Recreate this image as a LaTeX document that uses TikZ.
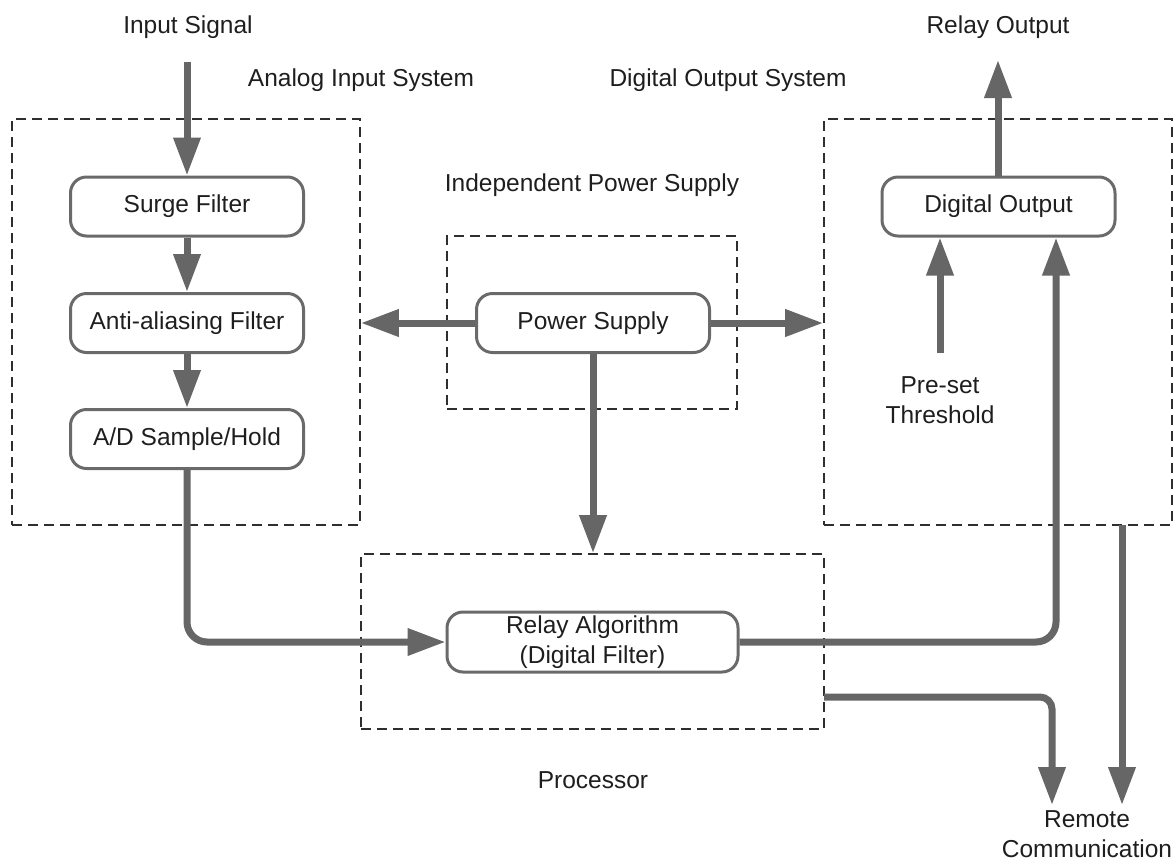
\documentclass[tikz,border=0pt]{standalone}
\usepackage{fontspec}
\setmainfont{Liberation Sans}
\usetikzlibrary{arrows.meta}
\definecolor{flowgray}{HTML}{666666}
\definecolor{boxgray}{HTML}{6A6A6A}
\definecolor{dashgray}{HTML}{2E2E2E}
\definecolor{txt}{HTML}{1E1E1E}
\begin{document}
\begin{tikzpicture}[x=1pt,y=-1pt,
  every node/.style={font=\fontsize{24.5}{30}\selectfont, text=txt},
  block/.style={draw=boxgray, line width=3pt, rounded corners=16pt, minimum width=233pt, minimum height=59pt, inner sep=0pt, align=center},
  group/.style={draw=dashgray, line width=1.7pt, dash pattern=on 10pt off 6pt, minimum width=#1, inner sep=0pt},
  flow/.style={draw=flowgray, line width=7pt, -{Triangle[width=26pt,length=38pt]}},
  lbl/.style={inner sep=0pt, align=center}
]
\useasboundingbox (0,0) rectangle (1174,863);

% dashed groups
\node[group=348pt, minimum height=406pt] (analog) at (186,322) {};
\node[group=348pt, minimum height=406pt] (digbox) at (998,322) {};
\node[group=290pt, minimum height=173pt] (pwrbox) at (592,322.5) {};
\node[group=463pt, minimum height=175pt] (proc) at (592.5,641.5) {};

% labels
\node[lbl] (linput) at (188,27) {Input Signal};
\node[lbl] (lrelay) at (998,27) {Relay Output};
\node[lbl] (lanalog) at (361,80) {Analog Input System};
\node[lbl] (ldigital) at (728,80) {Digital Output System};
\node[lbl] (lpower) at (592,185) {Independent Power Supply};
\node[lbl] (lproc) at (593,780) {Processor};
\node[lbl] (lpre) at (940,400) {Pre-set\\Threshold};
\node[lbl] (lremote) at (1087,834) {Remote\\Communication};

% blocks
\node[block] (surge) at (187,206.5) {Surge Filter};
\node[block] (anti) at (187,323) {Anti-aliasing Filter};
\node[block] (ad) at (187,439) {A/D Sample/Hold};
\node[block] (power) at (593,323) {Power Supply};
\node[block, minimum width=291pt, minimum height=60pt] (relay) at (592.5,642) {Relay Algorithm\\(Digital Filter)};
\node[block] (digout) at (998.5,206.5) {Digital Output};

% free ends
\coordinate (instart) at (187,62);
\coordinate (relaytip) at (998,60);
\coordinate (prestart) at (940,353);
\coordinate (doin) at (1056,642);
\coordinate (procout) at (824,697);
\coordinate (remtip1) at (1052,805);
\coordinate (digstart) at (1122,525);
\coordinate (remtip2) at (1122,805);

% connectors
\draw[flow] (instart) -- (surge.north);
\draw[flow] (surge.south) -- (anti.north);
\draw[flow] (anti.south) -- (ad.north);
\draw[flow, rounded corners=20pt] (ad.south) |- (relay.west);
\draw[flow, rounded corners=20pt] (relay.east) -| (digout.south -| doin);
\draw[flow] (prestart) -- (digout.south -| prestart);
\draw[flow] (digout.north -| relaytip) -- (relaytip);
\draw[flow] (power.west) -- (analog.east |- power.west);
\draw[flow] (power.east) -- (digbox.west |- power.east);
\draw[flow] (power.south) -- (power.south |- proc.north);
\draw[flow, rounded corners=12pt] (procout) -| (remtip1);
\draw[flow] (digstart) -- (remtip2);
\end{tikzpicture}
\end{document}
